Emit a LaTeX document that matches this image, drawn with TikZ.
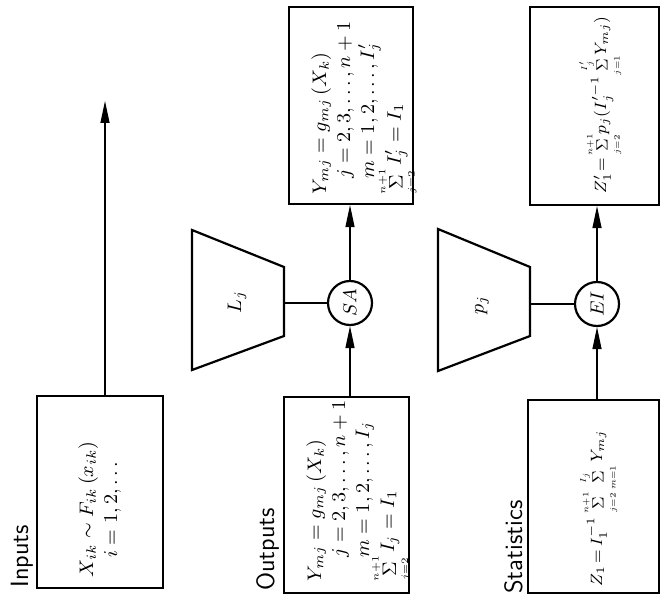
\RequirePackage{fix-cm}
\documentclass[tikz,border=0pt]{standalone}
\usetikzlibrary{arrows.meta,fit}
% letter-sized summation sign with tiny stacked limits
\newcommand\ssum[2]{\mathop{\Sigma}\limits_{\scriptscriptstyle #1}^{\scriptscriptstyle #2}}
\begin{document}
\begin{tikzpicture}[x=0.5pt,y=-0.5pt,
  box/.style={draw, line width=1.1pt, inner sep=0pt},
  arr/.style={line width=0.6pt, -{Triangle[length=11pt,width=4.5pt]}},
  link/.style={line width=0.6pt},
  mixer/.style={draw, circle, line width=1.1pt, minimum size=22pt, inner sep=0pt},
  eqn/.style={rotate=90, inner sep=0pt, align=left, font=\fontsize{9.8}{12}\selectfont},
  stateqn/.style={eqn, font=\fontsize{8.2}{10}\selectfont},
  heading/.style={rotate=90, inner sep=0pt, font=\fontsize{12.5}{14}\selectfont\sffamily},
  trap/.style={draw, line width=1.1pt, line join=miter}]
\useasboundingbox (0,0) rectangle (662,598);

% column headings
\node[heading, anchor=base west] (hin)   at (28,588)  {Inputs};
\node[heading, anchor=base west] (hout)  at (274,591) {Outputs};
\node[heading, anchor=base west] (hstat) at (522,594) {Statistics};

% boxes
\node[box, fit={(37,396) (163,588)}]  (inp)    {};
\node[box, fit={(284,397) (409,593)}] (outp)   {};
\node[box, fit={(289,7) (413,204)}]   (outtop) {};
\node[box, fit={(528,400) (659,593)}] (stat)   {};
\node[box, fit={(530,7) (659,205)}]   (ztop)   {};

% box contents
\node[eqn, anchor=north west] (inptxt) at (78,578)
  {$X_{ik}\sim F_{ik}\,(x_{ik})$\\ \hspace*{10pt}$i=1,2,\ldots$};
\node[eqn, anchor=north west] (outtxt) at (306,582)
  {$Y_{mj}=g_{mj}\,(X_k)$\\ \hspace*{12pt}$j=2,3,\ldots,n+1$\\
   \hspace*{12pt}$m=1,2,\ldots,I_j$\\[-3pt] $\ssum{j=2}{n+1} I_j = I_1$};
\node[eqn, anchor=north west] (toptxt) at (311,195)
  {$Y_{mj}=g_{mj}\,(X_k)$\\ \hspace*{8pt}$j=2,3,\ldots,n+1$\\
   \hspace*{8pt}$m=1,2,\ldots,I'_j$\\[-3pt] $\ssum{j=2}{n+1} I'_j = I_1$};
\node[stateqn, anchor=base west] (stattxt) at (602,587)
  {$\thickmuskip=3mu Z_1=I_1^{-1}\ssum{j=2}{n+1}\ssum{m=1}{I_j} Y_{mj}$};
\node[stateqn, anchor=base west] (ztxt) at (606,194)
  {$\thickmuskip=2mu Z'_1=\ssum{j=2}{n+1}\!p_j(I'^{-1}_j\!\ssum{j=1}{I'_j}\!Y_{mj})$};

% weighting blocks
\draw[trap] (192,230) -- (284,267) -- (284,336) -- (192,370) -- cycle;
\node[eqn] (ltxt) at (237,302) {$L_j$};
\coordinate (Lr) at (284,303);
\draw[trap] (438,229) -- (530,267) -- (530,336) -- (438,371) -- cycle;
\node[eqn] (ptxt) at (482,305) {$p_j$};
\coordinate (Pr) at (530,304);

% combining junctions
\node[mixer] (sa) at (350,303) {\rotatebox{90}{\fontsize{9.5}{11}\selectfont$SA$}};
\node[mixer] (ei) at (597,304) {\rotatebox{90}{\fontsize{9.5}{11}\selectfont$EI$}};

% connectors
\coordinate (inend) at (105,101);
\draw[arr] (inend |- inp.north) -- (inend);
\draw[link] (Lr) -- (sa);
\draw[arr] (sa |- outp.north) -- (sa.south);
\draw[arr] (sa.north) -- (sa |- outtop.south);
\draw[link] (Pr) -- (ei);
\draw[arr] (ei |- stat.north) -- (ei.south);
\draw[arr] (ei.north) -- (ei |- ztop.south);
\end{tikzpicture}
\end{document}
